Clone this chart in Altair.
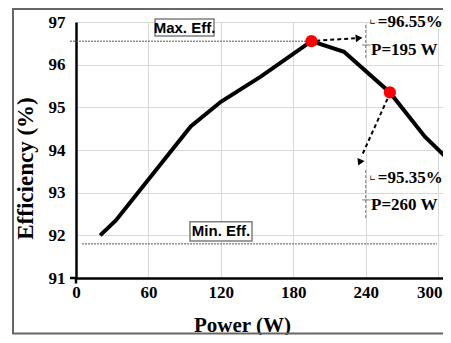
import altair as alt
import pandas as pd

# ---- data ----
power = [20, 33, 95, 120, 153, 195, 222, 260, 289, 315]
efficiency = [92.0, 92.35, 94.55, 95.13, 95.72, 96.55, 96.3, 95.35, 94.31, 93.6]
mark_power = [195, 260]
mark_eff = [96.55, 95.35]
x_ticks = [0, 60, 120, 180, 240, 300]
y_ticks = [91, 92, 93, 94, 95, 96, 97]
max_eff_line = 96.55
min_eff_line = 91.8

XS = alt.Scale(domain=[0, 304], nice=False, zero=False)
YS = alt.Scale(domain=[91, 97], nice=False, zero=False)

SERIF = "Liberation Serif"
SANS = "Liberation Sans Narrow, Liberation Sans, Arial"

XAX = alt.Axis(values=x_ticks, title="Power (W)", labelPadding=6, labelFlush=False,
               labelOffset={"condition": {"test": "datum.value >= 300", "value": -9}, "value": 0},
               titleFontSize=21, titleX=166, titleY=53, titleBaseline="alphabetic",
               titleAlign="center", titleAnchor="start")
YAX = alt.Axis(values=y_ticks, title="Efficiency (%)", labelPadding=11,
               titleFontSize=23, titleX=-44, titleY=146, titleAngle=270,
               titleBaseline="alphabetic", titleAlign="center", titleAnchor="start")


def X(f):
    return alt.X(f, type="quantitative", scale=XS, axis=XAX, title="Power (W)")


def Y(f):
    return alt.Y(f, type="quantitative", scale=YS, axis=YAX, title="Efficiency (%)")


curve = pd.DataFrame({"P": power, "E": efficiency})
pts = pd.DataFrame({"P": mark_power, "E": mark_eff})

# frame around whole figure
frame = alt.Chart(pd.DataFrame({"a": [0]})).mark_rect(
    fill=None, stroke="#666666", strokeWidth=2
).encode(x=alt.value(-63), x2=alt.value(420), y=alt.value(-13), y2=alt.value(311.5))

base_line = alt.Chart(curve).mark_line(color="black", strokeWidth=4, clip=True).encode(
    x=X("P"), y=Y("E"))


def seg(p1, e1, p2, e2, color="black", width=1.2, dash=(2, 2)):
    df = pd.DataFrame({"P": [p1], "E": [e1], "P2": [p2], "E2": [e2]})
    return alt.Chart(df).mark_rule(color=color, strokeWidth=width, strokeDash=list(dash)).encode(
        x=X("P"), y=Y("E"), x2="P2:Q", y2="E2:Q")


max_line = seg(-5, max_eff_line, 195, max_eff_line, color="#555555", width=1, dash=(2, 1))
min_line = seg(5, min_eff_line, 299, min_eff_line, color="#555555", width=1, dash=(2, 1))

arrow1 = seg(199, 96.56, 231, 96.62, width=2, dash=(4, 3))
arrow2 = seg(258, 95.2, 236.5, 93.85, width=2, dash=(4, 3))

heads = alt.Chart(pd.DataFrame({"P": [233.5, 235.3], "E": [96.62, 93.73], "ang": [85, 204]})).mark_point(
    shape="triangle", filled=True, color="black", size=60, opacity=1
).encode(x=X("P"), y=Y("E"), angle=alt.Angle("ang:Q", scale=None))

# faint dashed markers beside the annotations
mk = []
for a, b, t in [(96.93, 96.16, 96.46), (93.53, 92.36, 92.83)]:
    mk.append(seg(240, a, 240, b, color="#777777", width=1, dash=(3, 2)))
    mk.append(seg(237, t, 244, t, color="#777777", width=1, dash=(1, 0)))

# origin tick extensions
ext1 = seg(-5, 91, 0, 91, width=2.5, dash=(1, 0))
ext2 = seg(0, 91, 0, 90.87, width=2.5, dash=(1, 0))

red = alt.Chart(pts).mark_point(shape="circle", filled=True, color="#ff0000", size=150, opacity=1).encode(
    x=X("P"), y=Y("E"))

boxes = alt.Chart(pd.DataFrame({
    "P": [65.5, 94.4], "P2": [114.3, 145.8], "E": [97.07, 92.32], "E2": [96.67, 91.87]
})).mark_rect(fill="white", stroke="#7f7f7f", strokeWidth=1.5).encode(
    x=X("P"), x2="P2:Q", y=Y("E"), y2="E2:Q")

box_text = alt.Chart(pd.DataFrame({
    "P": [89.9, 120.1], "E": [96.87, 92.09], "t": ["Max. Eff.", "Min. Eff."]
})).mark_text(font=SANS, fontWeight="bold", fontSize=15, color="black", baseline="middle", align="center").encode(
    x=X("P"), y=Y("E"), text="t:N")

ann = alt.Chart(pd.DataFrame({
    "P": [250.0, 244.4, 250.0, 244.4],
    "E": [97.0, 96.34, 93.35, 92.71],
    "t": ["=96.55%", "P=195 W", "=95.35%", "P=260 W"],
})).mark_text(font=SERIF, fontWeight="bold", fontSize=17, color="black", baseline="middle", align="left").encode(
    x=X("P"), y=Y("E"), text="t:N")

eta = alt.Chart(pd.DataFrame({"P": [243.0, 243.0], "E": [96.97, 93.32], "t": ["∟", "∟"]})).mark_text(
    font="DejaVu Sans", fontSize=8, color="black", baseline="middle", align="left"
).encode(x=X("P"), y=Y("E"), text="t:N")

chart = alt.layer(
    frame, base_line, max_line, min_line, *mk, boxes, box_text, ann, eta,
    arrow1, arrow2, heads, ext1, ext2, red
).properties(
    width=367, height=256,
    autosize=alt.AutoSizeParams(type="none"),
    padding={"left": 68, "top": 14, "right": 0, "bottom": 57},
).configure_view(stroke=None).configure_axis(
    labelFont=SERIF, labelFontWeight="bold", labelFontSize=17, labelColor="black",
    titleFont=SERIF, titleFontWeight="bold", titleColor="black",
    ticks=False, domainColor="black", domainWidth=2.5,
    gridColor="#d9d9d9", gridWidth=1,
)

chart.save("out.html", embed_options={"renderer": "svg", "actions": False})
